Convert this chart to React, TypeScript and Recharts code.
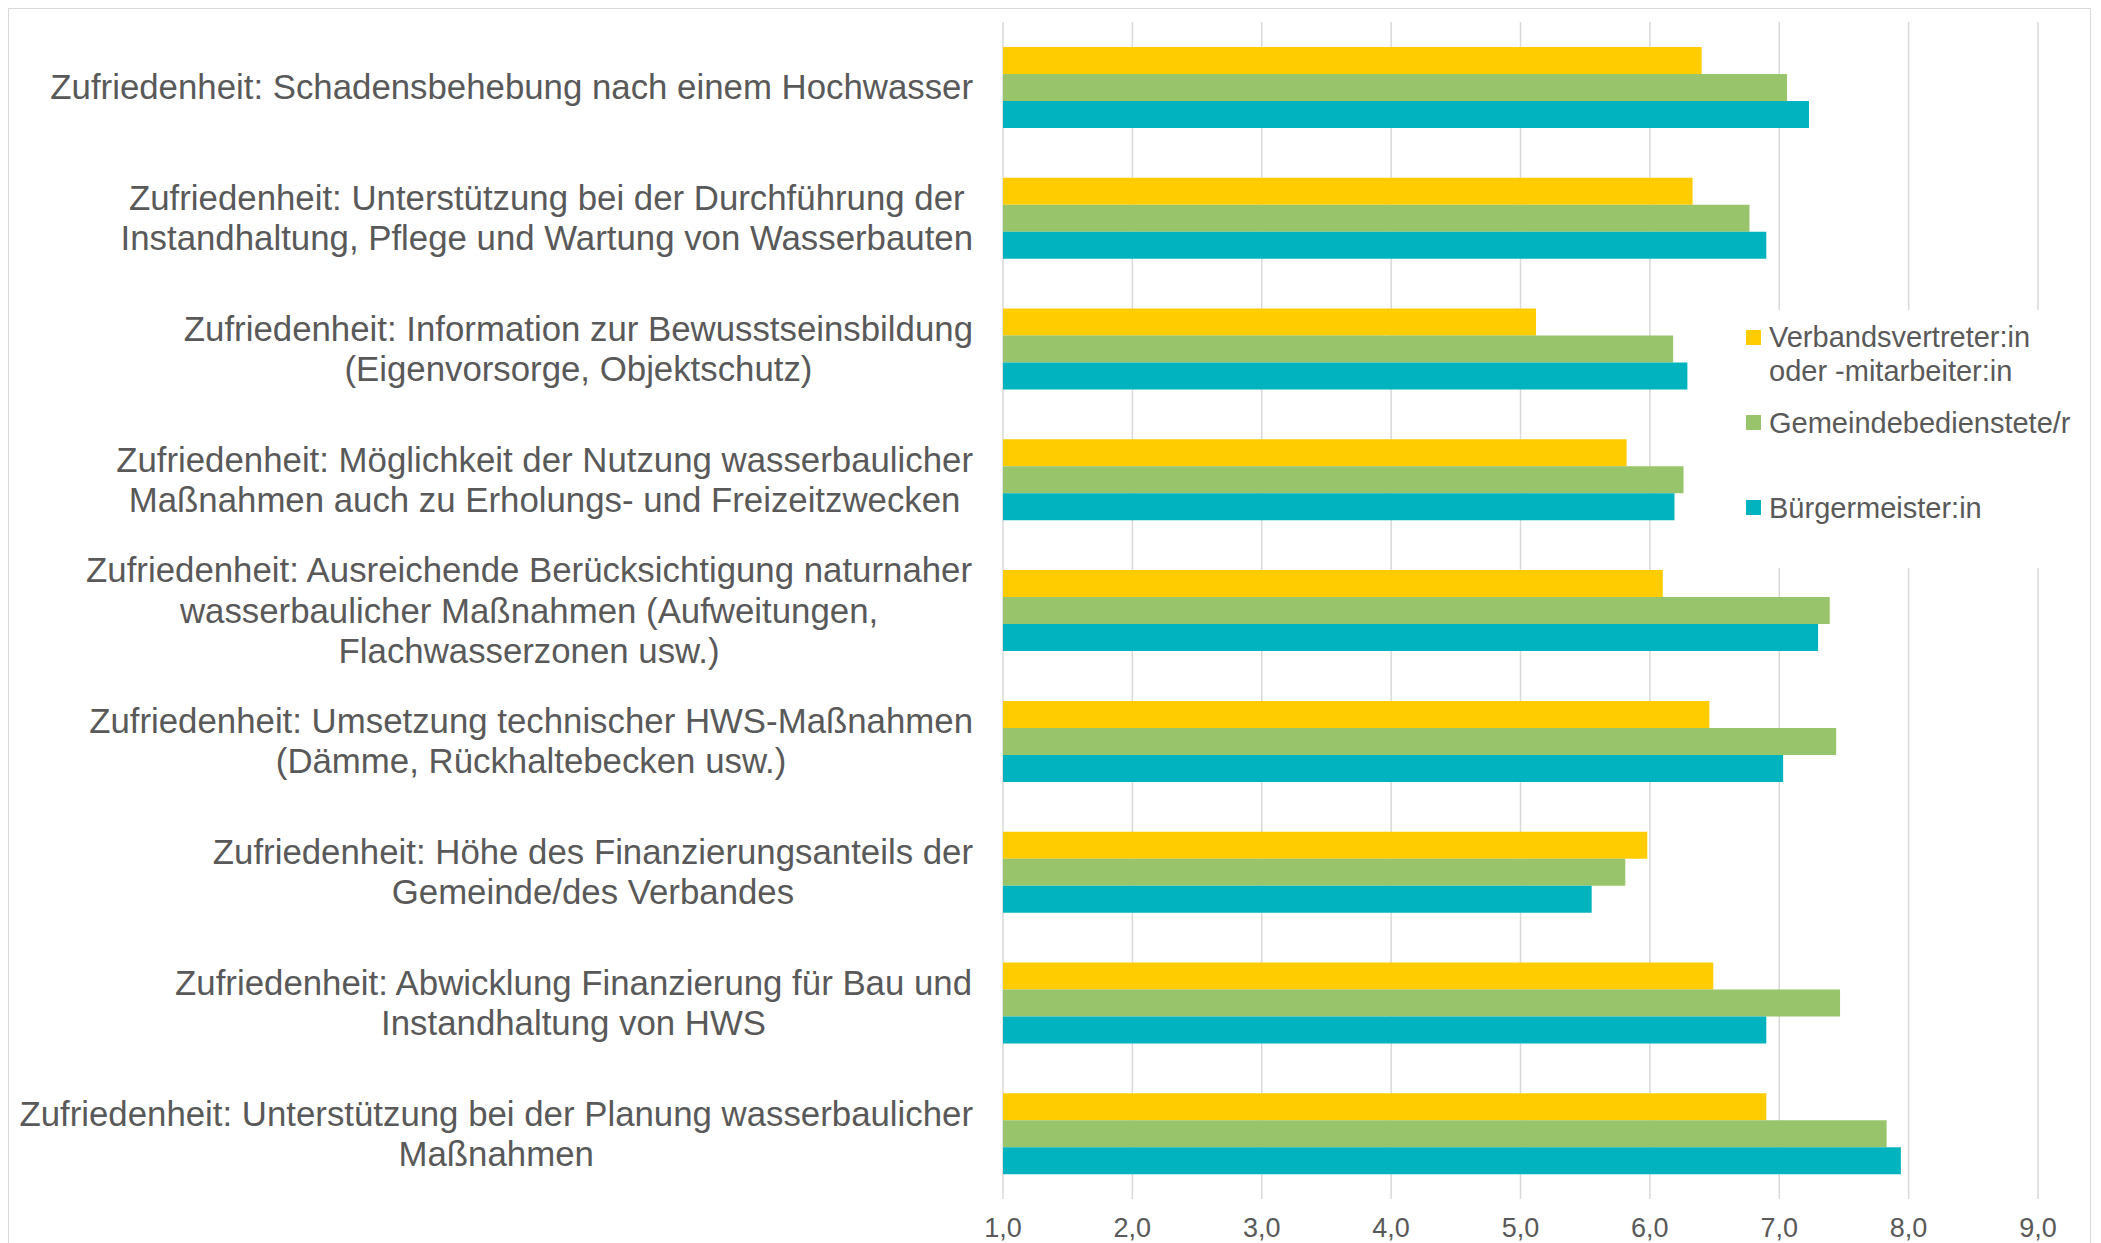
import React from "react";
import {
  BarChart,
  Bar,
  XAxis,
  YAxis,
  CartesianGrid,
  Legend,
} from "recharts";

const categories = [
  "Zufriedenheit: Schadensbehebung nach einem Hochwasser",
  "Zufriedenheit: Unterstützung bei der Durchführung der\nInstandhaltung, Pflege und Wartung von Wasserbauten",
  "Zufriedenheit: Information zur Bewusstseinsbildung\n(Eigenvorsorge, Objektschutz)",
  "Zufriedenheit: Möglichkeit der Nutzung wasserbaulicher\nMaßnahmen auch zu Erholungs- und Freizeitzwecken",
  "Zufriedenheit: Ausreichende Berücksichtigung naturnaher\nwasserbaulicher Maßnahmen (Aufweitungen,\nFlachwasserzonen usw.)",
  "Zufriedenheit: Umsetzung technischer HWS-Maßnahmen\n(Dämme, Rückhaltebecken usw.)",
  "Zufriedenheit: Höhe des Finanzierungsanteils der\nGemeinde/des Verbandes",
  "Zufriedenheit: Abwicklung Finanzierung für Bau und\nInstandhaltung von HWS",
  "Zufriedenheit: Unterstützung bei der Planung wasserbaulicher\nMaßnahmen",
];

const verbands = [6.4, 6.33, 5.12, 5.82, 6.1, 6.46, 5.98, 6.49, 6.9];
const gemeinde = [7.06, 6.77, 6.18, 6.26, 7.39, 7.44, 5.81, 7.47, 7.83];
const buergermeister = [7.23, 6.9, 6.29, 6.19, 7.3, 7.03, 5.55, 6.9, 7.94];

const xTicks = [1, 2, 3, 4, 5, 6, 7, 8, 9];

const seriesNames = [
  "Verbandsvertreter:in oder -mitarbeiter:in",
  "Gemeindebedienstete/r",
  "Bürgermeister:in",
];
const colors = ["#FFCC00", "#98C46C", "#00B3BE"];

const data = categories.map((label, i) => ({
  label,
  v: verbands[i],
  g: gemeinde[i],
  b: buergermeister[i],
}));

const FONT = "'Liberation Sans', Arial, sans-serif";
const TEXT = "#595959";
const LABEL_SIZE = 34.8;

let ctx: CanvasRenderingContext2D | null = null;
function measure(s: string) {
  if (!ctx) ctx = document.createElement("canvas").getContext("2d");
  if (!ctx) return s.length * LABEL_SIZE * 0.5;
  ctx.font = `${LABEL_SIZE}px 'Liberation Sans', Arial, sans-serif`;
  return ctx.measureText(s).width;
}

function CategoryTick(props: any) {
  const { x, y, payload } = props;
  const lines: string[] = String(payload.value).split("\n");
  const maxW = Math.max(...lines.map(measure));
  const right = x - 30;
  const cx = right - maxW / 2;
  const lh = 40.2;
  return (
    <g>
      {lines.map((ln, i) => (
        <text
          key={i}
          x={cx}
          y={y + (i - (lines.length - 1) / 2) * lh}
          dy={12}
          textAnchor="middle"
          fill={TEXT}
          fontSize={LABEL_SIZE}
          fontFamily={FONT}
        >
          {ln}
        </text>
      ))}
    </g>
  );
}

function ValueTick(props: any) {
  const { x, y, payload } = props;
  return (
    <text
      x={x}
      y={y}
      dy={38}
      textAnchor="middle"
      fill={TEXT}
      fontSize={27}
      fontFamily={FONT}
    >
      {Number(payload.value).toFixed(1).replace(".", ",")}
    </text>
  );
}

function LegendBox(props: any) {
  const items = [...(props.payload || [])].sort(
    (a: any, b: any) => seriesNames.indexOf(a.value) - seriesNames.indexOf(b.value)
  );
  const tops = [10, 95.5, 181];
  const sq = [20, 105, 190];
  return (
    <div
      style={{
        position: "relative",
        width: 350,
        height: 258,
        background: "#fff",
        fontFamily: FONT,
        fontSize: 29,
        color: TEXT,
        lineHeight: "34px",
      }}
    >
      {items.map((it: any, i: number) => (
        <React.Fragment key={i}>
          <div
            style={{
              position: "absolute",
              left: 11,
              top: sq[i],
              width: 15,
              height: 15,
              background: it.color,
            }}
          />
          <div
            style={{
              position: "absolute",
              left: 34,
              top: tops[i],
              width: 310,
            }}
          >
            {it.value}
          </div>
        </React.Fragment>
      ))}
    </div>
  );
}

export default function App() {
  return (
    <>
      <style>{`body{margin:0;overflow:hidden;background:#fff}`}</style>
      <div
        style={{
          position: "absolute",
          left: 8,
          top: 8,
          width: 2083,
          height: 1250,
          border: "1px solid #D9D9D9",
          boxSizing: "border-box",
          background: "#fff",
        }}
      >
        <BarChart
          width={2081}
          height={1240}
          data={data}
          layout="vertical"
          margin={{ top: 13, right: 52, left: 0, bottom: 0 }}
          barSize={27}
          barGap={0}
        >
          <CartesianGrid
            horizontal={false}
            stroke="#D9D9D9"
            strokeWidth={1.5}
          />
          <XAxis
            type="number"
            domain={[1, 9]}
            ticks={xTicks}
            allowDataOverflow
            axisLine={false}
            tickLine={false}
            tickSize={0}
            tickMargin={0}
            height={50}
            tick={<ValueTick />}
          />
          <YAxis
            type="category"
            dataKey="label"
            width={994}
            axisLine={false}
            tickLine={false}
            tickSize={0}
            tickMargin={0}
            interval={0}
            tick={<CategoryTick />}
          />
          <Legend
            layout="vertical"
            align="center"
            verticalAlign="middle"
            wrapperStyle={{ left: 1726, top: 301, width: 350, height: 258 }}
            content={<LegendBox />}
          />
          <Bar dataKey="v" name={seriesNames[0]} fill={colors[0]} isAnimationActive={false} />
          <Bar dataKey="g" name={seriesNames[1]} fill={colors[1]} isAnimationActive={false} />
          <Bar dataKey="b" name={seriesNames[2]} fill={colors[2]} isAnimationActive={false} />
        </BarChart>
      </div>
    </>
  );
}
